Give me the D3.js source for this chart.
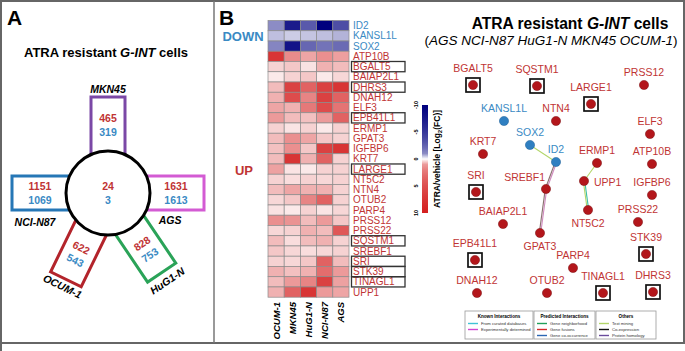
<!DOCTYPE html>
<html>
<head>
<meta charset="utf-8">
<script src="https://cdn.jsdelivr.net/npm/d3@7"></script>
<style>
  body { margin: 0; background: #fff; }
  svg { display: block; font-family: "Liberation Sans", Arial, sans-serif; }
</style>
</head>
<body>
<svg width="685" height="351"></svg>
<script>
// ---------- Panel A data: cell lines and their DEG counts
const cellLines = ["MKN45", "AGS", "HuG1-N", "OCUM-1", "NCI-N87"];
const upCounts = [465, 1631, 828, 622, 1151];
const downCounts = [319, 1613, 753, 543, 1069];
const sharedUp = 24;
const sharedDown = 3;

// ---------- Panel B heatmap data
const heatColumns = ["OCUM-1", "MKN45", "HuG1-N", "NCI-N87", "AGS"];
const downGenes = ["ID2", "KANSL1L", "SOX2"];
const upGenes = ["ATP10B", "BGALT5", "BAIAP2L1", "DHRS3", "DNAH12", "ELF3", "EPB41L1",
  "ERMP1", "GPAT3", "IGFBP6", "KRT7", "LARGE1", "NT5C2", "NTN4", "OTUB2", "PARP4",
  "PRSS12", "PRSS22", "SQSTM1", "SREBF1", "SRI", "STK39", "TINAGL1", "UPP1"];
const heatValues = [
  [-4.5, -9, -6.5, -10, -7],
  [-2.5, -2, -2.3, -2.5, -3],
  [-4.8, -9.2, -6, -5.5, -5.8],
  [9, 5.2, 4, 5, 4.3],
  [2, 2.5, 1.3, 3.5, 3],
  [1, 2, 2.5, 1, 1.8],
  [3, 8.5, 7, 8.5, 9],
  [3.5, 8, 5.5, 8.5, 7],
  [4, 3.5, 6, 8, 6.2],
  [4.5, 3, 2.8, 4.5, 7],
  [2, 1.2, 2, 1, 2],
  [3, 5, 4, 2.5, 2],
  [2.8, 5, 2.5, 8.5, 9],
  [3, 9, 3.5, 7, 2],
  [4.2, 1.2, 1, 2, 2],
  [2, 1.5, 2, 1.8, 2],
  [3, 4, 3.5, 3.5, 2],
  [1.8, 2.5, 5.5, 7, 2],
  [1.3, 1, 2, 1.2, 1.8],
  [5, 4.8, 3, 4.5, 2.5],
  [1.8, 2, 3.5, 3, 7.5],
  [3, 1.5, 3, 3.5, 2],
  [2.5, 1.8, 1.5, 1.8, 2],
  [2, 1.8, 2.5, 7, 3],
  [3.5, 2.8, 3.5, 6.5, 4.5],
  [3, 4.5, 5.5, 8.5, 4.2],
  [3.5, 7, 9, 4.5, 4]
];
const boxedGenes = ["BGALT5", "DHRS3", "EPB41L1", "LARGE1", "SQSTM1", "SRI", "STK39", "TINAGL1"];
const colorTicks = [-10, -5, 0, 5, 10];

// ---------- Panel B network data (layout units)
const nodeNames = ["BGALT5", "SQSTM1", "PRSS12", "LARGE1", "KANSL1L", "NTN4", "ELF3", "SOX2",
  "KRT7", "ID2", "ERMP1", "ATP10B", "SRI", "SREBF1", "UPP1", "IGFBP6", "BAIAP2L1", "NT5C2",
  "PRSS22", "GPAT3", "EPB41L1", "STK39", "PARP4", "DNAH12", "OTUB2", "TINAGL1", "DHRS3"];
const nodeX = [13, 77, 184, 131, 44, 96, 190, 70, 23, 96, 137, 192, 16, 86, 124, 192, 43, 128,
  178, 80, 15, 186, 113, 17, 87, 143, 193];
const nodeY = [25, 26, 25, 44, 61, 61, 74, 85, 94, 102, 103, 104, 132, 129, 121, 135, 164, 150,
  162, 173, 200, 194, 208, 233, 233, 233, 232];
const labelSide = { SREBF1: "left", UPP1: "right", NT5C2: "below", GPAT3: "below" };
const edges = [
  ["SOX2", "ID2", ["textmining"]],
  ["ID2", "SREBF1", ["experimental", "coexpression"]],
  ["SREBF1", "GPAT3", ["experimental", "coexpression"]],
  ["ERMP1", "UPP1", ["textmining"]],
  ["UPP1", "NT5C2", ["neighborhood", "textmining"]]
];
const legendTitles = ["Known Interactions", "Predicted Interactions", "Others"];
const legendItems = [
  ["From curated databases", "Experimentally determined"],
  ["Gene neighborhood", "Gene fusions", "Gene co-occurrence"],
  ["Text mining", "Co-expression", "Protein homology"]
];
const legendColors = [
  ["#41c3d6", "#d145d1"],
  ["#22a05a", "#d42a2a", "#2c66b3"],
  ["#b3d66a", "#111111", "#6a4c9c"]
];
const edgeColors = {
  textmining: "#b3d66a", experimental: "#d08abf", coexpression: "#8a7070",
  neighborhood: "#3cbfa6"
};

const svg = d3.select("svg");
const red = "#bf3434", blue = "#3a8ac4";

// ---------- frame
svg.append("rect").attr("x", 1).attr("y", 1).attr("width", 683).attr("height", 342)
  .attr("fill", "none").attr("stroke", "#666").attr("stroke-width", 2);
svg.append("line").attr("x1", 214).attr("x2", 214).attr("y1", 1).attr("y2", 343)
  .attr("stroke", "#777").attr("stroke-width", 1.5);
svg.append("line").attr("x1", 1).attr("x2", 1).attr("y1", 343).attr("y2", 351)
  .attr("stroke", "#666").attr("stroke-width", 2);

// ---------- Panel A
svg.append("text").attr("x", 7).attr("y", 25).attr("font-size", 21).attr("font-weight", "bold").text("A");
const titleA = svg.append("text").attr("x", 106).attr("y", 57).attr("text-anchor", "middle")
  .attr("font-size", 13).attr("font-weight", "bold");
titleA.append("tspan").text("ATRA resistant ");
titleA.append("tspan").attr("font-style", "italic").text("G-INT");
titleA.append("tspan").text(" cells");

const cxA = 108, cyA = 193, rA = 42;
const boxLayout = [
  { angle: 0, labelR: 104, labelDy: 0 },
  { angle: 90, labelR: 62, labelDy: 27 },
  { angle: 146, labelR: 106, labelDy: 0 },
  { angle: 206, labelR: 104, labelDy: 0 },
  { angle: 270, labelR: 73, labelDy: 29 }
];
const boxColors = ["#7b48a6", "#d35bd3", "#2aa358", "#b3242b", "#2677b6"];
const rad = (a) => (a * Math.PI) / 180;
const polar = (r, a) => [cxA + r * Math.sin(rad(a)), cyA - r * Math.cos(rad(a))];
const textRot = (a) => ((((a + 45) % 90) + 90) % 90) - 45;

cellLines.forEach((name, i) => {
  const L = boxLayout[i];
  svg.append("g")
    .attr("transform", `translate(${cxA},${cyA}) rotate(${L.angle})`)
    .append("rect")
    .attr("x", -17).attr("y", -96).attr("width", 34).attr("height", 66)
    .attr("fill", "white").attr("stroke", boxColors[i]).attr("stroke-width", 3);
});
svg.append("circle").attr("cx", cxA).attr("cy", cyA).attr("r", rA)
  .attr("fill", "white").attr("stroke", "black").attr("stroke-width", 3);

cellLines.forEach((name, i) => {
  const L = boxLayout[i];
  const rot = textRot(L.angle);
  const [px, py] = polar(68, L.angle);
  const g = svg.append("g").attr("transform", `translate(${px},${py}) rotate(${rot})`)
    .attr("text-anchor", "middle").attr("font-size", 10.5).attr("font-weight", "bold");
  g.append("text").attr("y", -7).attr("dy", "0.35em").attr("fill", red).text(upCounts[i]);
  g.append("text").attr("y", 7).attr("dy", "0.35em").attr("fill", blue).text(downCounts[i]);
  const [lx, ly] = polar(L.labelR, L.angle);
  svg.append("text")
    .attr("transform", `translate(${lx},${ly + L.labelDy}) rotate(${rot})`)
    .attr("text-anchor", "middle").attr("dy", "0.35em")
    .attr("font-size", 10.5).attr("font-weight", "bold").attr("font-style", "italic")
    .text(name);
});
svg.append("text").attr("x", cxA).attr("y", cyA - 7).attr("dy", "0.35em").attr("text-anchor", "middle")
  .attr("font-size", 10.5).attr("font-weight", "bold").attr("fill", red).text(sharedUp);
svg.append("text").attr("x", cxA).attr("y", cyA + 7).attr("dy", "0.35em").attr("text-anchor", "middle")
  .attr("font-size", 10.5).attr("font-weight", "bold").attr("fill", blue).text(sharedDown);

// ---------- Panel B heatmap
svg.append("text").attr("x", 219).attr("y", 25).attr("font-size", 21).attr("font-weight", "bold").text("B");
svg.append("text").attr("x", 243).attr("y", 41).attr("text-anchor", "middle").attr("font-size", 13)
  .attr("font-weight", "bold").attr("fill", blue).text("DOWN");
svg.append("text").attr("x", 244).attr("y", 175).attr("text-anchor", "middle").attr("font-size", 13)
  .attr("font-weight", "bold").attr("fill", red).text("UP");

const allGenes = downGenes.concat(upGenes);
const xH = d3.scaleBand().domain(heatColumns).range([268, 349]);
const yH = d3.scaleBand().domain(allGenes).range([20.5, 297.2]);
const color = d3.scaleLinear().domain([-10, 0, 10]).range(["#00007e", "#ffffff", "#d41f1f"]).clamp(true);

const cells = allGenes.flatMap((g, r) => heatColumns.map((c, k) => ({ gene: g, col: c, v: heatValues[r][k] })));
svg.append("g").selectAll("rect").data(cells).enter().append("rect")
  .attr("x", (d) => xH(d.col)).attr("y", (d) => yH(d.gene))
  .attr("width", xH.bandwidth()).attr("height", yH.bandwidth())
  .attr("fill", (d) => color(d.v)).attr("stroke", "#8a8a8a").attr("stroke-width", 0.7);

svg.append("g").selectAll("text").data(allGenes).enter().append("text")
  .attr("x", 353).attr("y", (d) => yH(d) + yH.bandwidth() / 2).attr("dy", "0.36em")
  .attr("font-size", 10).attr("fill", (d) => (downGenes.includes(d) ? blue : red)).text((d) => d);
svg.append("g").selectAll("rect").data(boxedGenes).enter().append("rect")
  .attr("x", 351.5).attr("y", (d) => yH(d)).attr("width", 53.5).attr("height", yH.bandwidth())
  .attr("fill", "none").attr("stroke", "#333").attr("stroke-width", 1.3);

svg.append("g").selectAll("text").data(heatColumns).enter().append("text")
  .attr("transform", (d) => `translate(${xH(d) + xH.bandwidth() / 2 + 3.5},302) rotate(-90)`)
  .attr("text-anchor", "end").attr("font-size", 9.5).attr("font-weight", "bold")
  .attr("font-style", "italic").text((d) => d);

// colour bar
const yC = d3.scaleLinear().domain([-10, 10]).range([105, 213]);
const grad = svg.append("defs").append("linearGradient").attr("id", "cbar")
  .attr("x1", 0).attr("x2", 0).attr("y1", 0).attr("y2", 1);
d3.range(0, 1.0001, 0.05).forEach((t) => {
  const v = -10 + 20 * t;
  const s = Math.sign(v) * 10 * Math.pow(Math.abs(v) / 10, 0.35);
  grad.append("stop").attr("offset", t).attr("stop-color", color(s));
});
svg.append("rect").attr("x", 422).attr("y", yC(-10)).attr("width", 6)
  .attr("height", yC(10) - yC(-10)).attr("fill", "url(#cbar)");
svg.append("g").selectAll("text").data(colorTicks).enter().append("text")
  .attr("transform", (d) => `translate(418,${yC(d)}) rotate(-90)`)
  .attr("text-anchor", "middle").attr("font-size", 5.5).attr("font-weight", "bold").text((d) => d);
const cbt = svg.append("text").attr("transform", `translate(440,${yC(0)}) rotate(-90)`)
  .attr("text-anchor", "middle").attr("font-size", 8.5).attr("font-weight", "bold");
cbt.append("tspan").text("ATRA/vehicle [Log");
cbt.append("tspan").attr("font-size", 6).attr("dy", 2).text("2");
cbt.append("tspan").attr("dy", -2).text("(FC)]");

// ---------- Panel B network
const titleB = svg.append("text").attr("x", 570).attr("y", 29).attr("text-anchor", "middle")
  .attr("font-size", 15.6).attr("font-weight", "bold");
titleB.append("tspan").text("ATRA resistant ");
titleB.append("tspan").attr("font-style", "italic").text("G-INT");
titleB.append("tspan").text(" cells");
const subB = svg.append("text").attr("x", 551).attr("y", 44.5).attr("text-anchor", "middle").attr("font-size", 13.5);
subB.append("tspan").text("(");
subB.append("tspan").attr("font-style", "italic").text("AGS NCI-N87 HuG1-N MKN45 OCUM-1");
subB.append("tspan").text(")");

const xN = d3.scaleLinear().domain([0, 200]).range([460, 660]);
const yN = d3.scaleLinear().domain([0, 240]).range([60, 300]);
const nodes = nodeNames.map((n, i) => ({
  name: n, x: xN(nodeX[i]), y: yN(nodeY[i]),
  down: downGenes.includes(n), boxed: boxedGenes.includes(n)
}));
const byName = Object.fromEntries(nodes.map((d) => [d.name, d]));

edges.forEach(([a, b, types]) => {
  const s = byName[a], t = byName[b];
  const dx = t.x - s.x, dy = t.y - s.y, len = Math.hypot(dx, dy);
  const ox = -dy / len, oy = dx / len;
  types.forEach((type, k) => {
    const off = (k - (types.length - 1) / 2) * 1.4;
    svg.append("line")
      .attr("x1", s.x + ox * off).attr("y1", s.y + oy * off)
      .attr("x2", t.x + ox * off).attr("y2", t.y + oy * off)
      .attr("stroke", edgeColors[type]).attr("stroke-width", 1.1);
  });
});

const nodeG = svg.append("g").selectAll("g").data(nodes).enter().append("g")
  .attr("transform", (d) => `translate(${d.x},${d.y})`);
nodeG.filter((d) => d.boxed).append("rect")
  .attr("x", -7).attr("y", -7).attr("width", 14).attr("height", 14)
  .attr("fill", "white").attr("stroke", "#111").attr("stroke-width", 1.7);
nodeG.append("circle").attr("r", 4.6)
  .attr("fill", (d) => (d.down ? "#2f7fc1" : "#b3161b"))
  .attr("stroke", (d) => (d.down ? "#1d5f96" : "#7a0e10")).attr("stroke-width", 0.5);
nodeG.append("text")
  .attr("font-size", 10.5)
  .attr("fill", (d) => (d.down ? blue : red))
  .attr("text-anchor", (d) => ({ left: "end", right: "start" }[labelSide[d.name]] || "middle"))
  .attr("x", (d) => ({ left: -1, right: 10 }[labelSide[d.name]] || 0))
  .attr("y", (d) => {
    const side = labelSide[d.name];
    if (side === "right") return 4.5;
    if (side === "below") return 16.5;
    if (side === "left") return -8.5;
    return d.boxed ? -13.5 : -9;
  })
  .text((d) => d.name);

// legend
const legX = [465, 534, 596], legW = [68, 61, 60];
legendTitles.forEach((title, i) => {
  const g = svg.append("g").attr("transform", `translate(${legX[i]},311)`);
  g.append("rect").attr("width", legW[i]).attr("height", 28)
    .attr("fill", "white").attr("stroke", "#9a9a9a").attr("stroke-width", 0.8);
  g.append("text").attr("x", legW[i] / 2).attr("y", 7).attr("text-anchor", "middle")
    .attr("font-size", 4.6).attr("font-weight", "bold").text(title);
  legendItems[i].forEach((item, k) => {
    const yy = 12.5 + k * 6;
    g.append("line").attr("x1", 3).attr("x2", 13).attr("y1", yy).attr("y2", yy)
      .attr("stroke", legendColors[i][k]).attr("stroke-width", 1.4);
    g.append("text").attr("x", 16).attr("y", yy).attr("dy", "0.35em")
      .attr("font-size", 4.2).attr("fill", "#333").text(item);
  });
});
</script>
</body>
</html>
